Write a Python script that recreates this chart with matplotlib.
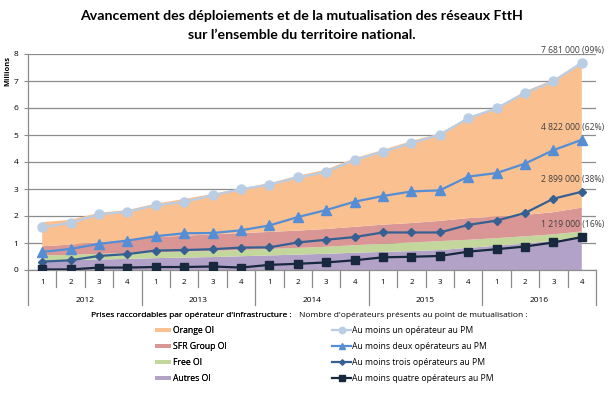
import matplotlib
matplotlib.use("Agg")
import matplotlib.pyplot as plt
from matplotlib.font_manager import FontProperties
import numpy as np

plt.rcParams['font.family'] = ['Open Sans', 'DejaVu Sans']

# ---------------- data ----------------
years = ["2012", "2013", "2014", "2015", "2016"]
quarters = ["1", "2", "3", "4"]
categories = [q for _ in years for q in quarters]

# stacked areas (millions of lines)
autres_oi = [0.36, 0.37, 0.39, 0.41, 0.44, 0.46, 0.48, 0.51, 0.54, 0.57,
             0.60, 0.64, 0.67, 0.70, 0.74, 0.82, 0.90, 0.98, 1.08, 1.24]
free_oi = [0.18, 0.19, 0.21, 0.22, 0.22, 0.22, 0.23, 0.23, 0.24, 0.25,
           0.26, 0.28, 0.30, 0.32, 0.33, 0.30, 0.28, 0.27, 0.24, 0.19]
sfr_oi = [0.34, 0.38, 0.43, 0.47, 0.56, 0.59, 0.61, 0.63, 0.63, 0.64,
          0.66, 0.68, 0.71, 0.72, 0.75, 0.80, 0.80, 0.79, 0.82, 0.88]
orange_oi = [0.89, 0.92, 1.09, 1.12, 1.24, 1.36, 1.50, 1.65, 1.81, 2.03,
             2.20, 2.54, 2.77, 3.04, 3.24, 3.74, 4.04, 4.58, 4.91, 5.39]

# lines (millions)
au_moins_un = [1.58, 1.75, 2.06, 2.16, 2.40, 2.52, 2.77, 2.99, 3.16, 3.43,
               3.63, 4.08, 4.38, 4.70, 5.01, 5.62, 5.99, 6.56, 6.99, 7.681]
au_moins_deux = [0.67, 0.78, 0.97, 1.09, 1.25, 1.36, 1.37, 1.47, 1.65, 1.96,
                 2.22, 2.53, 2.74, 2.91, 2.95, 3.46, 3.59, 3.94, 4.44, 4.822]
au_moins_trois = [0.31, 0.36, 0.52, 0.59, 0.72, 0.74, 0.77, 0.83, 0.84, 1.02,
                  1.12, 1.22, 1.39, 1.39, 1.39, 1.67, 1.83, 2.11, 2.64, 2.899]
au_moins_quatre = [0.02, 0.02, 0.09, 0.09, 0.11, 0.11, 0.13, 0.09, 0.19, 0.23,
                   0.28, 0.36, 0.47, 0.49, 0.52, 0.68, 0.77, 0.87, 1.02, 1.219]

end_labels = ["7 681 000 (99%)", "4 822 000 (62%)", "2 899 000 (38%)", "1 219 000 (16%)"]

area_names = ["Autres OI", "Free OI", "SFR Group OI", "Orange OI"]
area_colors = ["#B3A2C7", "#C3D69B", "#D99694", "#FAC090"]
line_names = ["Au moins un opérateur au PM", "Au moins deux opérateurs au PM",
              "Au moins trois opérateurs au PM", "Au moins quatre opérateurs au PM"]
line_colors = ["#B9CDE5", "#558ED5", "#376092", "#17283F"]
line_markers = ["o", "^", "D", "s"]
marker_sizes = [6.5, 6.5, 4.0, 6.0]

# ---------------- figure ----------------
fig = plt.figure(figsize=(6.12, 3.95), dpi=100)
ax = fig.add_axes([28 / 612, 1 - 270 / 395, 568 / 612, 216 / 395])

x = np.arange(len(categories))
polys = ax.stackplot(x, autres_oi, free_oi, sfr_oi, orange_oi,
                     colors=area_colors, linewidth=0, zorder=2)

series = [au_moins_un, au_moins_deux, au_moins_trois, au_moins_quatre]
line_handles = []
for vals, name, c, m, ms in zip(series, line_names, line_colors, line_markers, marker_sizes):
    h, = ax.plot(x, vals, color=c, lw=1.6, marker=m, markersize=ms,
                 markeredgecolor=c, markerfacecolor=c, zorder=3, label=name)
    line_handles.append(h)

for vals, lab in zip(series, end_labels):
    ax.annotate(lab, xy=(x[-1], vals[-1]), xytext=(16, 9), textcoords="offset points",
                ha="right", va="center", fontsize=6.2, color="#404040", zorder=4)

ax.set_xlim(-0.5, len(categories) - 0.5)
ax.set_ylim(0, 8)
ax.set_yticks(range(0, 9))
ax.yaxis.grid(True, color="#8C8C8C", lw=0.9, zorder=0)
ax.set_axisbelow(True)
ax.tick_params(axis="y", length=3, color="#8C8C8C", labelsize=6.0, pad=4, labelcolor="#000000")
ax.tick_params(axis="x", length=0, labelbottom=False)
for s in ["top", "right"]:
    ax.spines[s].set_visible(False)
for s in ["left", "bottom"]:
    ax.spines[s].set_color("#8C8C8C")
    ax.spines[s].set_linewidth(0.9)

# category axis (two-level)
xt = ax.get_xaxis_transform()
n = len(categories)
for k in range(n + 1):
    b = k - 0.5
    low = -35 / 216 if k % 4 == 0 else -17 / 216
    ax.plot([b, b], [0, low], transform=xt, color="#8C8C8C", lw=0.9, clip_on=False)
for i, q in enumerate(categories):
    ax.text(i, -12.7 / 216, q, transform=xt, ha="center", va="center", fontsize=5.7)
for j, yr in enumerate(years):
    ax.text(4 * j + 1.5, -30 / 216, yr, transform=xt, ha="center", va="center", fontsize=6.0)

ax.text(-0.036, 0.92, "Millions", transform=ax.transAxes, rotation=90,
        ha="center", va="center", fontsize=5.4, fontweight="bold")

# title
title_font = ['Lato', 'DejaVu Sans']
fig.text(0.493, 1 - 16 / 395, "Avancement des déploiements et de la mutualisation des réseaux FttH",
         ha="center", va="center", fontsize=10.2, fontweight="bold", family=title_font)
fig.text(0.493, 1 - 35 / 395, "sur l’ensemble du territoire national.",
         ha="center", va="center", fontsize=10.2, fontweight="bold", family=title_font)

# legends
title_fp = FontProperties(family=['Open Sans', 'DejaVu Sans'], size=6.0, weight="normal")
area_handles = [polys[3], polys[2], polys[1], polys[0]]
area_labels = [area_names[3], area_names[2], area_names[1], area_names[0]]
leg1 = fig.legend(area_handles, area_labels, loc="upper center",
                  bbox_to_anchor=(191 / 612, 1 - 312 / 395), frameon=False,
                  fontsize=6.2, title="Prises raccordables par opérateur d'infrastructure :",
                  title_fontproperties=title_fp, handlelength=1.85, handleheight=0.45,
                  handletextpad=0.3, labelspacing=0.82, borderpad=0, borderaxespad=0)
fig.add_artist(leg1)
leg2 = fig.legend(line_handles, line_names, loc="upper center",
                  bbox_to_anchor=(413 / 612, 1 - 312 / 395), frameon=False,
                  fontsize=6.2, title="Nombre d'opérateurs présents au point de mutualisation :",
                  title_fontproperties=title_fp, handlelength=2.2, handletextpad=0.1,
                  labelspacing=0.82, markerscale=0.7, borderpad=0, borderaxespad=0)

fig.savefig("out.png", dpi=100)
